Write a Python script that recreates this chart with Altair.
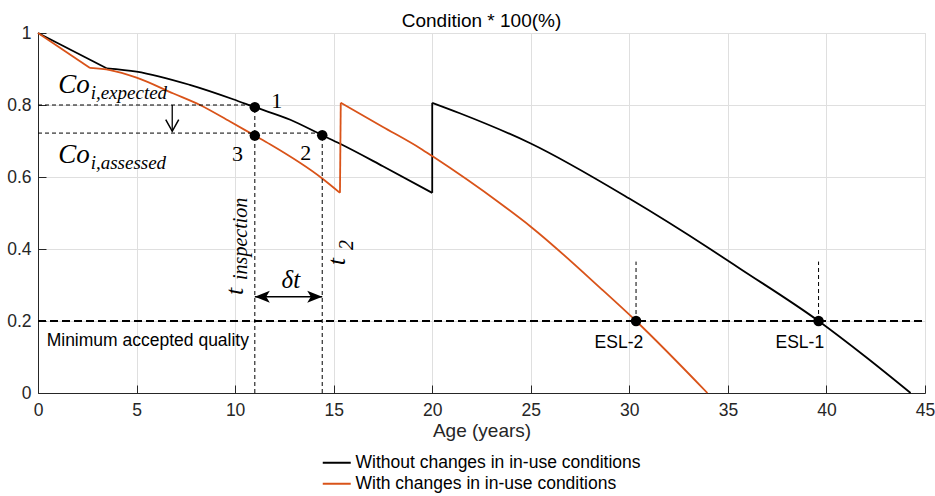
import altair as alt
import pandas as pd

# Condition (fraction of new) versus age in years for the two scenarios
black_age = [0.0, 3.48, 5.0, 7.7, 9.9, 11.0, 12.8, 14.42, 15.3, 17.5, 20.0, 20.0,
             21.4, 25.0, 30.0, 34.1, 35.6, 39.6, 42.0, 44.27]
black_cond = [1.0, 0.902, 0.893, 0.856, 0.816, 0.794, 0.759, 0.716, 0.693, 0.63, 0.556, 0.806,
              0.777, 0.693, 0.54, 0.40, 0.346, 0.2, 0.1, 0.0]
orange_age = [0.0, 2.64, 3.65, 5.0, 6.87, 8.22, 9.74, 11.0, 11.77, 14.42, 15.32, 15.36,
              17.5, 19.38, 20.0, 23.44, 25.0, 28.6, 30.34, 33.96]
orange_cond = [1.0, 0.903, 0.897, 0.876, 0.832, 0.8, 0.754, 0.715, 0.691, 0.596, 0.556, 0.806,
               0.739, 0.68, 0.658, 0.527, 0.462, 0.288, 0.2, 0.0]
# indices where a curve has a corner: initial kink, then both ends of the repair jump
black_breaks = [1, 10, 11]
orange_breaks = [1, 10, 11]
series_names = ["Without changes in in-use conditions", "With changes in in-use conditions"]
series_colors = ["#000000", "#D95319"]

# Marked points: 1, 2, 3 and the two end-of-service-life crossings
point_age = [11.0, 14.42, 11.0, 30.34, 39.6]
point_cond = [0.794, 0.716, 0.715, 0.2, 0.2]

# Thin dashed guide segments (from -> to)
guide_x = [0.0, 0.0, 11.0, 14.42, 30.34, 39.6]
guide_x2 = [11.0, 14.42, 11.0, 14.42, 30.34, 39.6]
guide_y = [0.8, 0.722, 0.0, 0.0, 0.2, 0.2]
guide_y2 = [0.8, 0.722, 0.794, 0.716, 0.365, 0.365]

min_quality = 0.2
age_max = 45
x_ticks = [0, 5, 10, 15, 20, 25, 30, 35, 40, 45]
y_ticks = [0, 0.2, 0.4, 0.6, 0.8, 1.0]

# Arrows: drop from expected to assessed condition, and the delta-t span
drop_age = 6.81
drop_from, drop_to = 0.8, 0.727
span_from, span_to, span_cond = 11.0, 14.42, 0.2675

# Text annotations
co_labels = ["Co", "Co"]
co_age = [2.62, 2.62]
co_cond = [0.833, 0.638]
sub_labels = ["i,expected", "i,assessed"]
sub_age = [2.67, 2.67]
sub_cond = [0.816, 0.622]
num_labels = ["1", "2", "3"]
num_age = [12.11, 13.59, 10.12]
num_cond = [0.8125, 0.666, 0.664]
delta_label, delta_age, delta_cond = "δt", 12.83, 0.314
t_labels = ["t", "t"]
t_age = [10.40, 15.58]
t_cond = [0.272, 0.355]
tsub_labels = ["inspection", "2"]
tsub_age = [10.60, 15.98]
tsub_cond = [0.314, 0.397]
mq_label, mq_age, mq_cond = "Minimum accepted quality", 0.44, 0.13
esl_labels = ["ESL-2", "ESL-1"]
esl_age = [29.47, 38.65]
esl_cond = [0.125, 0.125]

W, H = 887, 360
TICK = 8
SANS = "Liberation Sans"
SERIF = "Liberation Serif"
FS = 17.5
AX = "#262626"
GRID = "#dfdfdf"

x_scale = alt.Scale(domain=[0, age_max], nice=False, zero=False)
y_scale = alt.Scale(domain=[0, 1], nice=False, zero=False)


def X(field, axis=None):
    return alt.X(field, type="quantitative", scale=x_scale, axis=axis)


def Y(field, axis=None):
    return alt.Y(field, type="quantitative", scale=y_scale, axis=axis)


def curve_rows(name, ages, conds, breaks):
    """Split a curve into smooth pieces at its corners (corner points are shared)."""
    rows = []
    cuts = [0] + breaks + [len(ages) - 1]
    for s in range(len(cuts) - 1):
        for i in range(cuts[s], cuts[s + 1] + 1):
            rows.append({"age": ages[i], "cond": conds[i], "series": name,
                         "seg": f"{name}-{s}", "idx": i})
    return rows


curves = pd.DataFrame(
    curve_rows(series_names[0], black_age, black_cond, black_breaks)
    + curve_rows(series_names[1], orange_age, orange_cond, orange_breaks)
)

x_main = alt.Axis(orient="bottom", values=x_ticks, format="d", grid=True, gridColor=GRID,
                  gridWidth=1, domainColor=AX, domainWidth=1, ticks=False, tickSize=0,
                  labelFont=SANS, labelFontSize=FS, labelColor=AX, labelPadding=8,
                  labelFlush=False, title="Age (years)", titleFont=SANS, titleFontSize=19,
                  titleFontWeight="normal", titleColor=AX, titlePadding=3)
y_main = alt.Axis(orient="left", values=y_ticks, format="~g", grid=True, gridColor=GRID,
                  gridWidth=1, domainColor=AX, domainWidth=1, ticks=False, tickSize=0,
                  labelFont=SANS, labelFontSize=FS, labelColor=AX, labelPadding=7,
                  labelFlush=False, title=None)
# inward-pointing tick marks: an axis shifted into the plot by its own tick length
x_ticks_in = alt.Axis(orient="bottom", offset=-TICK, values=x_ticks, labels=False, domain=False,
                      grid=False, ticks=True, tickSize=TICK, tickColor=AX, tickWidth=1, title=None)
y_ticks_in = alt.Axis(orient="left", offset=-TICK, values=y_ticks, labels=False, domain=False,
                      grid=False, ticks=True, tickSize=TICK, tickColor=AX, tickWidth=1, title=None)

legend = alt.Legend(orient="none", legendX=290, legendY=421, title=None, direction="vertical",
                    symbolType="M-2,0H2", symbolSize=196, symbolStrokeWidth=2,
                    labelFont=SANS, labelFontSize=FS, labelColor="#000", labelOffset=10,
                    labelLimit=500, rowPadding=2, padding=0)

line_layer = alt.Chart(curves).mark_line(strokeWidth=1.8, interpolate="monotone").encode(
    x=X("age", x_main),
    y=Y("cond", y_main),
    color=alt.Color("series:N", scale=alt.Scale(domain=series_names, range=series_colors),
                    legend=legend),
    detail="seg:N",
    order=alt.Order("idx:Q"),
)

mq_layer = alt.Chart(pd.DataFrame({"a": [0.0], "a2": [age_max], "c": [min_quality]})).mark_rule(
    color="#000", strokeWidth=1.8, strokeDash=[8, 4]
).encode(x=X("a", x_ticks_in), x2="a2", y=Y("c", y_ticks_in))

guides = pd.DataFrame({"a": guide_x, "a2": guide_x2, "c": guide_y, "c2": guide_y2})
guide_layer = alt.Chart(guides).mark_rule(color="#000", strokeWidth=1, strokeDash=[4, 3]).encode(
    x=X("a"), x2="a2", y=Y("c"), y2="c2"
)

points = pd.DataFrame({"a": point_age, "c": point_cond})
point_layer = alt.Chart(points).mark_circle(size=110, color="#000", opacity=1).encode(
    x=X("a"), y=Y("c")
)

drop_shaft = alt.Chart(pd.DataFrame({"a": [drop_age], "c": [drop_from], "c2": [drop_to]})).mark_rule(
    color="#000", strokeWidth=1.3
).encode(x=X("a"), y=Y("c"), y2="c2")
drop_head = alt.Chart(pd.DataFrame({"a": [drop_age], "c": [drop_to]})).mark_point(
    shape="M-1,-1.8L0,0L1,-1.8", size=169, filled=False, color="#000", strokeWidth=1.5, opacity=1
).encode(x=X("a"), y=Y("c"))

span_shaft = alt.Chart(pd.DataFrame({"a": [span_from], "a2": [span_to], "c": [span_cond]})).mark_rule(
    color="#000", strokeWidth=1.6
).encode(x=X("a"), x2="a2", y=Y("c"))
span_left = alt.Chart(pd.DataFrame({"a": [span_from], "c": [span_cond]})).mark_point(
    shape="M0,0L2.5,-1L1.9,0L2.5,1Z", size=144, filled=True, color="#000", opacity=1
).encode(x=X("a"), y=Y("c"))
span_right = alt.Chart(pd.DataFrame({"a": [span_to], "c": [span_cond]})).mark_point(
    shape="M0,0L-2.5,-1L-1.9,0L-2.5,1Z", size=144, filled=True, color="#000", opacity=1
).encode(x=X("a"), y=Y("c"))


def text_layer(labels, ages, conds, **kw):
    df = pd.DataFrame({"label": labels, "a": ages, "c": conds})
    return alt.Chart(df).mark_text(color="#000", **kw).encode(
        x=X("a"), y=Y("c"), text=alt.Text("label:N")
    )


co_text = text_layer(co_labels, co_age, co_cond, font=SERIF, fontStyle="italic", fontSize=27,
                     align="right", baseline="alphabetic")
sub_text = text_layer(sub_labels, sub_age, sub_cond, font=SERIF, fontStyle="italic", fontSize=19,
                      align="left", baseline="alphabetic")
num_text = text_layer(num_labels, num_age, num_cond, font=SERIF, fontSize=22,
                      align="center", baseline="middle")
delta_text = text_layer([delta_label], [delta_age], [delta_cond], font=SERIF, fontStyle="italic",
                        fontSize=25, align="center", baseline="middle")
t_text = text_layer(t_labels, t_age, t_cond, font=SERIF, fontStyle="italic", fontSize=26,
                    align="left", baseline="alphabetic", angle=270)
tsub_text = text_layer(tsub_labels, tsub_age, tsub_cond, font=SERIF, fontStyle="italic",
                       fontSize=20, align="left", baseline="alphabetic", angle=270)
mq_text = text_layer([mq_label], [mq_age], [mq_cond], font=SANS, fontSize=FS,
                     align="left", baseline="alphabetic")
esl_text = text_layer(esl_labels, esl_age, esl_cond, font=SANS, fontSize=FS,
                      align="center", baseline="alphabetic")

chart = alt.layer(
    line_layer, mq_layer, guide_layer, point_layer,
    drop_shaft, drop_head, span_shaft, span_left, span_right,
    co_text, sub_text, num_text, delta_text, t_text, tsub_text, mq_text, esl_text,
).resolve_axis(
    x="independent", y="independent"
).properties(
    width=W,
    height=H,
    title=alt.TitleParams("Condition * 100(%)", font=SANS, fontSize=19, fontWeight="normal",
                          color="#000", anchor="middle", offset=-7, frame="group"),
    padding={"left": 38, "top": 33, "right": 10, "bottom": 103},
    autosize=alt.AutoSizeParams(type="none"),
).configure_view(stroke=None).configure(background="white")

chart.save("out.html", embed_options={"renderer": "svg", "actions": False})
